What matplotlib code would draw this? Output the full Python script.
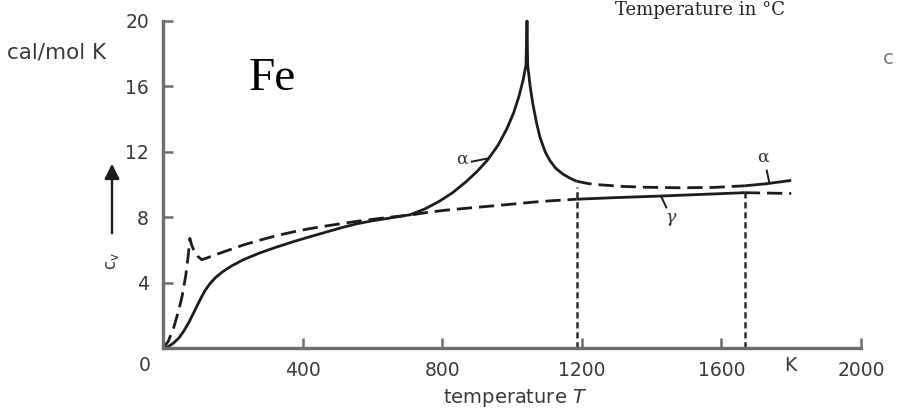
import numpy as np
import matplotlib
matplotlib.use("Agg")
import matplotlib.pyplot as plt

# ---- data ----
alpha_T = [0, 15, 30, 45, 60, 75, 90, 105, 120, 135, 150, 170, 195, 230, 278, 325, 373,
           420, 469, 515, 556, 600, 650, 708, 750, 790, 830, 870, 900, 930, 960, 985,
           1005, 1020, 1032, 1040, 1043, 1045, 1052, 1060, 1070, 1080, 1095, 1109, 1125,
           1145, 1165, 1185, 1220, 1252, 1320, 1387, 1480, 1576, 1667, 1730, 1800]
alpha_cv = [0, 0.08, 0.3, 0.6, 1.05, 1.6, 2.25, 2.9, 3.5, 3.95, 4.3, 4.65, 5.0, 5.4,
            5.82, 6.17, 6.5, 6.8, 7.1, 7.38, 7.6, 7.78, 7.95, 8.15, 8.5, 8.95, 9.5, 10.2,
            10.8, 11.5, 12.4, 13.4, 14.4, 15.4, 16.4, 17.3, 20.0, 17.3, 16.0, 14.9, 13.8,
            12.9, 12.0, 11.45, 11.0, 10.65, 10.4, 10.2, 10.05, 9.98, 9.88, 9.83, 9.8,
            9.82, 9.92, 10.05, 10.25]

gamma_T = [0, 15, 30, 45, 55, 65, 72, 77, 82, 90, 100, 111, 125, 150, 183, 230, 278,
           325, 373, 420, 469, 515, 556, 600, 650, 708, 760, 810, 871, 940, 1000, 1060,
           1109, 1185, 1300, 1433, 1550, 1667, 1800]
gamma_cv = [0, 0.4, 1.2, 2.3, 3.2, 4.4, 5.6, 6.7, 6.3, 5.9, 5.6, 5.4, 5.5, 5.7, 5.95,
            6.3, 6.6, 6.87, 7.1, 7.3, 7.47, 7.62, 7.75, 7.87, 8.0, 8.13, 8.3, 8.43, 8.55,
            8.68, 8.8, 8.92, 9.0, 9.1, 9.2, 9.3, 9.4, 9.5, 9.45]

transition_T = [1185, 1667]          # alpha->gamma, gamma->delta
transition_top = [9.85, 9.8]

x_ticks = [400, 800, 1200, 1600, 2000]
x_ticklabels = ["400", "800", "1200", "1600", "2000"]
y_ticks = [4, 8, 12, 16, 20]
y_ticklabels = ["4", "8", "12", "16", "20"]

# ---- figure ----
W, H = 909, 418
fig = plt.figure(figsize=(W / 100, H / 100), dpi=100)
ax = fig.add_axes([163 / W, (H - 348) / H, 698 / W, (348 - 21) / H])
ax.set_xlim(0, 2000)
ax.set_ylim(0, 20)

curve_col = "#1c1c1c"
axis_col = "#6e6e6e"
txt_col = "#3a3a3a"
lw = 2.0
dash = (0, (5.5, 2.5))

aT = np.array(alpha_T, float); acv = np.array(alpha_cv, float)
gT = np.array(gamma_T, float); gcv = np.array(gamma_cv, float)
t1, t2 = transition_T

def seg(T, cv, lo, hi):
    m = (T >= lo) & (T <= hi)
    return T[m], cv[m]

# alpha: stable (solid) below t1 and above t2
for lo, hi, ls in [(0, t1, "-"), (t1, t2, dash), (t2, 2000, "-")]:
    x, y = seg(aT, acv, lo, hi)
    ax.plot(x, y, color=curve_col, lw=lw, linestyle=ls, solid_capstyle="butt",
            dash_capstyle="butt", solid_joinstyle="round", clip_on=False)
# gamma: stable (solid) between t1 and t2
for lo, hi, ls in [(0, t1, dash), (t1, t2, "-"), (t2, 2000, dash)]:
    x, y = seg(gT, gcv, lo, hi)
    ax.plot(x, y, color=curve_col, lw=lw, linestyle=ls, solid_capstyle="butt",
            dash_capstyle="butt", solid_joinstyle="round", clip_on=False)

# transition markers
for t, top in zip(transition_T, transition_top):
    ax.plot([t, t], [0, top], color="#2a2a2a", lw=1.8, linestyle=(0, (2.5, 1.5)))

# axes styling
for s in ["top", "right"]:
    ax.spines[s].set_visible(False)
for s in ["left", "bottom"]:
    ax.spines[s].set_color(axis_col)
    ax.spines[s].set_linewidth(2.4)
ax.set_xticks(x_ticks)
ax.set_xticklabels(x_ticklabels)
ax.set_yticks(y_ticks)
ax.set_yticklabels(y_ticklabels)
sans = "DejaVu Sans"
ax.tick_params(direction="in", length=7, width=1.8, color=axis_col,
               labelcolor=txt_col, labelsize=13.5)
ax.tick_params(axis="x", pad=9)
ax.tick_params(axis="y", pad=10)
for lab in ax.get_xticklabels() + ax.get_yticklabels():
    lab.set_family(sans)

ax.text(-52, -1.1, "0", ha="center", va="center", fontsize=13.5, color=txt_col,
        family=sans, clip_on=False)
ax.text(1797, -1.1, "K", ha="center", va="center", fontsize=13.5, color=txt_col,
        family=sans, clip_on=False)

# curve labels with leaders
serif = "DejaVu Serif"
ax.text(857, 11.55, "α", ha="center", va="center", fontsize=12.5, color="#333333", family=serif)
ax.plot([885, 932], [11.4, 11.6], color=curve_col, lw=1.4)
ax.text(1718, 11.65, "α", ha="center", va="center", fontsize=12.5, color="#333333", family=serif)
ax.plot([1730, 1737], [10.85, 10.15], color=curve_col, lw=1.4)
ax.text(1455, 8.0, "γ", ha="center", va="center", fontsize=12.5, color="#333333",
        family=serif, style="italic")
ax.plot([1428, 1442], [9.25, 8.6], color=curve_col, lw=1.4)

# figure texts
fig.text(272 / W, 1 - 79 / H, "Fe", ha="center", va="center", fontsize=34,
         family="Liberation Serif", color="black")
fig.text(700 / W, 1 - 10 / H, "Temperature in °C", ha="center", va="center",
         fontsize=13, family=serif, color="#222222")
fig.text(106 / W, 1 - 52 / H, "cal/mol K", ha="right", va="center", fontsize=15.5,
         family=sans, color=txt_col)
fig.text(883 / W, 1 - 58 / H, "c", ha="left", va="center", fontsize=14,
         family=sans, color="#777777")
fig.text(515 / W, 1 - 398 / H, "temperature $\\it{T}$", ha="center", va="center",
         fontsize=14, family=sans, color=txt_col)
fig.text(112 / W, 1 - 261 / H, "c$_\\mathregular{v}$", ha="center", va="center",
         fontsize=12, family=sans, color=txt_col, rotation=90)
fig.add_artist(matplotlib.patches.FancyArrowPatch(
    (112 / W, 1 - 236 / H), (112 / W, 1 - 161 / H), transform=fig.transFigure,
    arrowstyle="-|>,head_length=6,head_width=3", color="#1c1c1c", lw=1.7,
    mutation_scale=1.5))

fig.savefig("out.png", dpi=100)
